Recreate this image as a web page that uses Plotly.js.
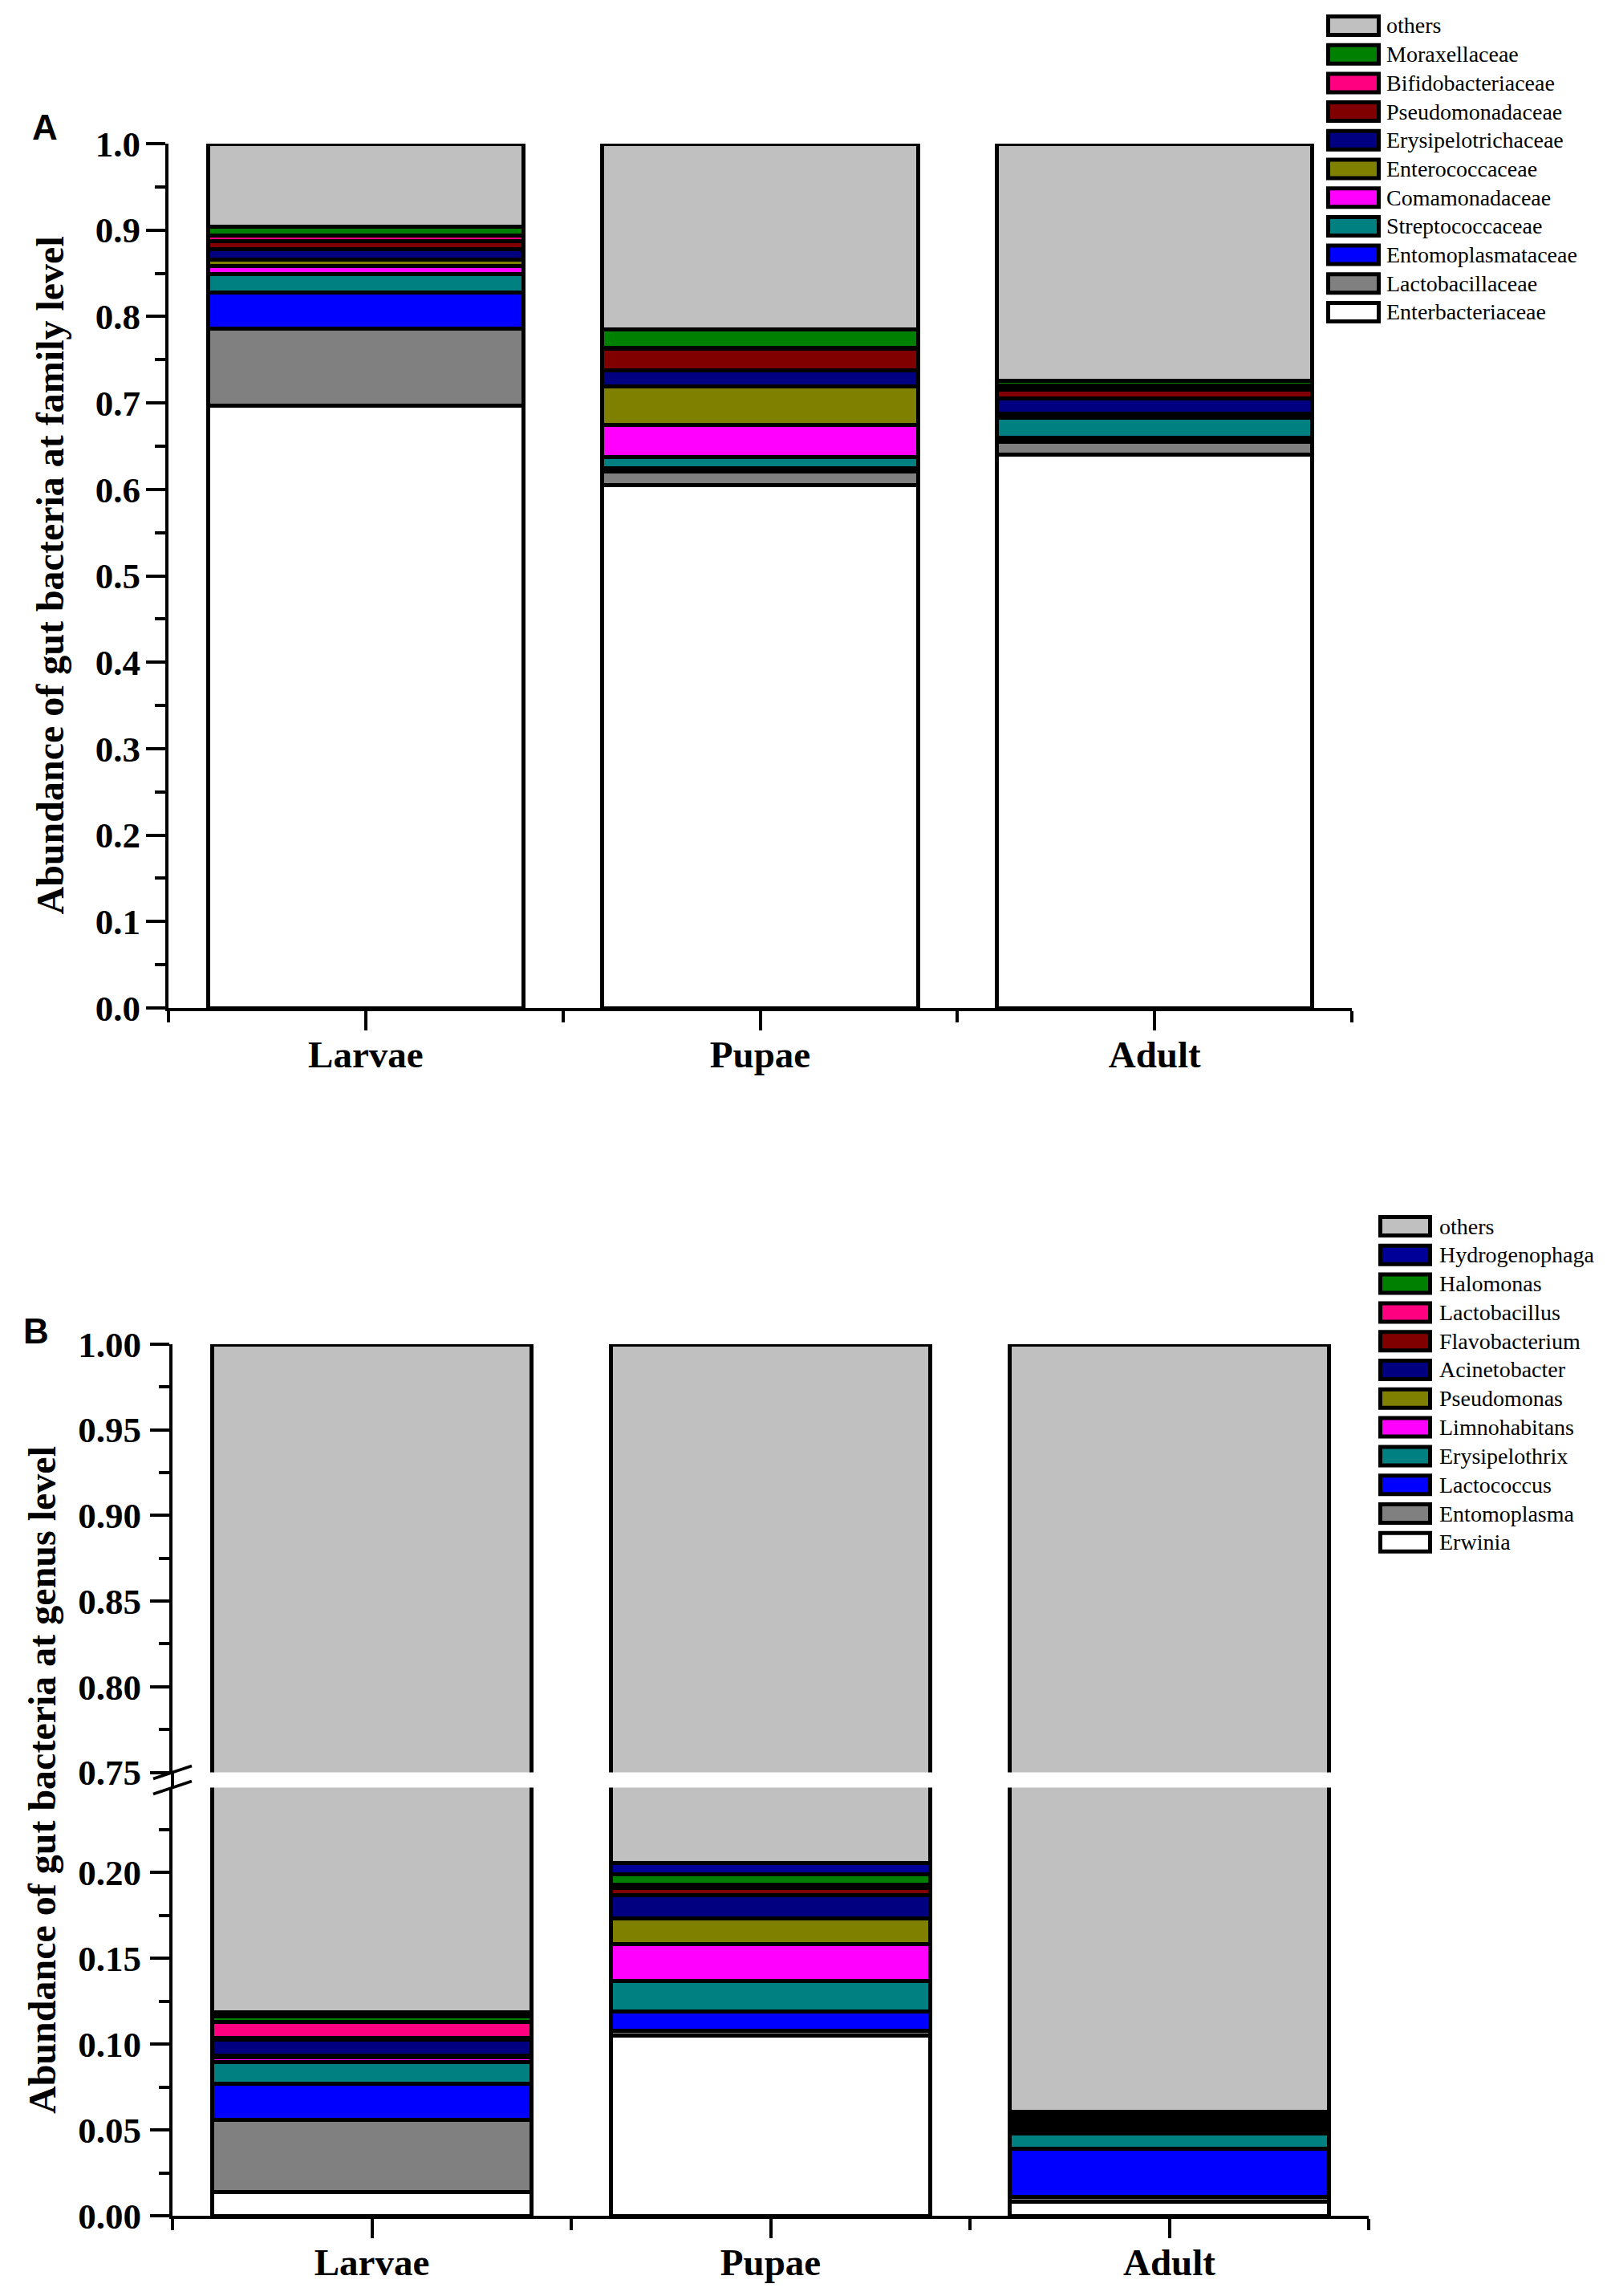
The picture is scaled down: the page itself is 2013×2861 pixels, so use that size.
<!DOCTYPE html>
<html>
<head>
<meta charset="utf-8">
<script src="https://cdn.plot.ly/plotly-3.0.1.min.js"></script>
<style>html,body{margin:0;padding:0;background:#fff;}</style>
</head>
<body>
<div id="chart" style="width:2013px;height:2861px;"></div>
<script>
// ---------- DATA ----------
const stages = ['Larvae', 'Pupae', 'Adult'];

// Panel A: family level (bottom -> top)
const familyNames = ['Enterbacteriaceae','Lactobacillaceae','Entomoplasmataceae','Streptococcaceae','Comamonadaceae','Enterococcaceae','Erysipelotrichaceae','Pseudomonadaceae','Bifidobacteriaceae','Moraxellaceae','others'];
const familyColors = ['#FFFFFF','#808080','#0000FF','#008080','#FF00FF','#808000','#000080','#800000','#FF0080','#008000','#C0C0C0'];
const enterbacteriaceae  = [0.697, 0.605, 0.640];
const lactobacillaceae   = [0.089, 0.016, 0.015];
const entomoplasmataceae = [0.042, 0.003, 0.005];
const streptococcaceae   = [0.021, 0.013, 0.023];
const comamonadaceae     = [0.009, 0.038, 0.003];
const enterococcaceae    = [0.008, 0.044, 0.002];
const erysipelotrichaceae= [0.012, 0.019, 0.017];
const pseudomonadaceae   = [0.009, 0.025, 0.010];
const bifidobacteriaceae = [0.007, 0.001, 0.005];
const moraxellaceae      = [0.010, 0.021, 0.006];
const familyOthers       = [0.096, 0.215, 0.274];
const familyValues = [enterbacteriaceae, lactobacillaceae, entomoplasmataceae, streptococcaceae, comamonadaceae, enterococcaceae, erysipelotrichaceae, pseudomonadaceae, bifidobacteriaceae, moraxellaceae, familyOthers];

// Panel B: genus level (bottom -> top)
const genusNames = ['Erwinia','Entomoplasma','Lactococcus','Erysipelothrix','Limnohabitans','Pseudomonas','Acinetobacter','Flavobacterium','Lactobacillus','Halomonas','Hydrogenophaga','others'];
const genusColors = ['#FFFFFF','#808080','#0000FF','#008080','#FF00FF','#808000','#000080','#800000','#FF0080','#008000','#000099','#C0C0C0'];
const erwinia        = [0.014, 0.105, 0.008];
const entomoplasma   = [0.042, 0.003, 0.003];
const lactococcus    = [0.021, 0.011, 0.028];
const erysipelothrix = [0.0125, 0.018, 0.009];
const limnohabitans  = [0.003, 0.0215, 0.0015];
const pseudomonas    = [0.001, 0.015, 0.002];
const acinetobacter  = [0.009, 0.0135, 0.002];
const flavobacterium = [0.001, 0.004, 0.002];
const lactobacillus  = [0.0095, 0.002, 0.0015];
const halomonas      = [0.003, 0.006, 0.002];
const hydrogenophaga = [0.0025, 0.0065, 0.0017];
const genusOthers    = [0.8815, 0.7945, 0.9393];
const genusValues = [erwinia, entomoplasma, lactococcus, erysipelothrix, limnohabitans, pseudomonas, acinetobacter, flavobacterium, lactobacillus, halomonas, hydrogenophaga, genusOthers];

const yTitleA = 'Abundance of gut bacteria at family level';
const yTitleB = 'Abundance of gut bacteria at genus level';

// ---------- LAYOUT GEOMETRY (pixels) ----------
const W = 2013, H = 2861;
const px = v => v / W;
const py = v => 1 - v / H;
const A = {x0: 210, x1: 1685, yTop: 179, yBot: 1256};
const B = {x0: 215, x1: 1706, upTop: 1675, upBot: 2208.5, loTop: 2227.5, loBot: 2761};

const serif = 'Liberation Serif, Times New Roman, serif';
const xIdx = stages.map((s, i) => i);
const lineW = 5;

const traces = [];
function addBars(names, colors, values, xa, ya) {
  names.forEach((n, i) => {
    traces.push({
      type: 'bar', name: n, x: xIdx, y: values[i], xaxis: xa, yaxis: ya,
      width: 0.8, showlegend: false,
      marker: {color: colors[i], line: {color: '#000', width: lineW}},
      hoverinfo: 'name+y'
    });
  });
}
addBars(familyNames, familyColors, familyValues, 'x', 'y');
addBars(genusNames, genusColors, genusValues, 'x2', 'y2');
addBars(genusNames, genusColors, genusValues, 'x2', 'y3');

const tickFontY = {family: serif, size: 45, color: '#000', weight: 'bold'};
const tickFontX = {family: serif, size: 47, color: '#000', weight: 'bold'};

function xAxis(domain, anchor) {
  return {
    domain: domain, anchor: anchor, range: [-0.5, 2.5], fixedrange: true,
    showline: true, linecolor: '#000', linewidth: 4, showgrid: false, zeroline: false,
    tickmode: 'array', tickvals: xIdx, ticktext: stages,
    ticks: 'outside', ticklen: 24, tickwidth: 4, tickcolor: '#000',
    tickfont: tickFontX, ticklabelstandoff: -10,
    minor: {tickmode: 'linear', tick0: -0.5, dtick: 1, ticks: 'outside', ticklen: 14, tickwidth: 4, tickcolor: '#000', showgrid: false}
  };
}
function yAxis(domain, anchor, range, dtick, fmt, minorD, standoff) {
  return {
    domain: domain, anchor: anchor, range: range, fixedrange: true,
    showline: true, linecolor: '#000', linewidth: 4, showgrid: false, zeroline: false,
    tickmode: 'linear', tick0: 0, dtick: dtick, tickformat: fmt,
    ticks: 'outside', ticklen: 24, tickwidth: 4, tickcolor: '#000',
    tickfont: tickFontY, ticklabelstandoff: standoff,
    minor: {tickmode: 'linear', tick0: 0, dtick: minorD, ticks: 'outside', ticklen: 13, tickwidth: 4, tickcolor: '#000', showgrid: false}
  };
}

const layout = {
  width: W, height: H, autosize: false,
  margin: {l: 0, r: 0, t: 0, b: 0, pad: 0},
  paper_bgcolor: '#fff', plot_bgcolor: 'rgba(0,0,0,0)',
  barmode: 'stack', bargap: 0.2, showlegend: false,
  xaxis: xAxis([px(A.x0), px(A.x1)], 'y'),
  yaxis: yAxis([py(A.yBot), py(A.yTop)], 'x', [0, 1], 0.1, '.1f', 0.05, -2),
  xaxis2: xAxis([px(B.x0), px(B.x1)], 'y2'),
  yaxis2: yAxis([py(B.loBot), py(B.loTop)], 'x2', [0, 0.2495], 0.05, '.2f', 0.025, 2),
  yaxis3: yAxis([py(B.upBot), py(B.upTop)], 'x2', [0.75, 1.0], 0.05, '.2f', 0.025, 2),
  shapes: [], annotations: []
};
layout.yaxis3.tick0 = 0.75;
layout.yaxis3.minor.tick0 = 0.75;

// axis break marks in panel B
const brk = [B.upBot, B.loTop];
layout.shapes.push({type: 'line', xref: 'paper', yref: 'paper', x0: px(B.x0), x1: px(B.x0), y0: py(B.upBot), y1: py(B.loTop), line: {color: '#000', width: 4}});
brk.forEach(yb => {
  layout.shapes.push({type: 'line', xref: 'paper', yref: 'paper',
    x0: px(B.x0 - 24), y0: py(yb + 8), x1: px(B.x0 + 24), y1: py(yb - 8),
    line: {color: '#000', width: 3.5}});
});

// custom legends (swatch boxes + labels)
function addLegend(names, colors, boxX0, boxX1, textX, yFirst, step) {
  const n = names.length;
  for (let k = 0; k < n; k++) {
    const i = n - 1 - k;             // top entry = last series
    const yc = yFirst + k * step;
    layout.shapes.push({type: 'rect', xref: 'paper', yref: 'paper',
      x0: px(boxX0), x1: px(boxX1), y0: py(yc + 11.5), y1: py(yc - 11.5),
      fillcolor: colors[i], line: {color: '#000', width: 5}});
    layout.annotations.push({xref: 'paper', yref: 'paper', x: px(textX), y: py(yc),
      xanchor: 'left', yanchor: 'middle', showarrow: false, text: names[i],
      font: {family: serif, size: 28, color: '#000'}});
  }
}
addLegend(familyNames, familyColors, 1655.5, 1718.5, 1726, 32, 35.7);
addLegend(genusNames, genusColors, 1720.5, 1782.5, 1792, 1528, 35.8);

// axis titles (rotated) and panel letters
layout.annotations.push({xref: 'paper', yref: 'paper', x: px(62), y: py((A.yTop + A.yBot) / 2),
  xanchor: 'center', yanchor: 'middle', textangle: -90, showarrow: false, text: yTitleA,
  font: {family: serif, size: 48, color: '#000', weight: 'bold'}});
layout.annotations.push({xref: 'paper', yref: 'paper', x: px(52), y: py((B.upTop + B.loBot) / 2),
  xanchor: 'center', yanchor: 'middle', textangle: -90, showarrow: false, text: yTitleB,
  font: {family: serif, size: 48, color: '#000', weight: 'bold'}});
layout.annotations.push({xref: 'paper', yref: 'paper', x: px(56), y: py(158),
  xanchor: 'center', yanchor: 'middle', showarrow: false, text: 'A',
  font: {family: 'Liberation Sans, Arial, sans-serif', size: 44, color: '#000', weight: 'bold'}});
layout.annotations.push({xref: 'paper', yref: 'paper', x: px(45), y: py(1658),
  xanchor: 'center', yanchor: 'middle', showarrow: false, text: 'B',
  font: {family: 'Liberation Sans, Arial, sans-serif', size: 44, color: '#000', weight: 'bold'}});

Plotly.newPlot('chart', traces, layout, {displayModeBar: false, staticPlot: true});
</script>
</body>
</html>
